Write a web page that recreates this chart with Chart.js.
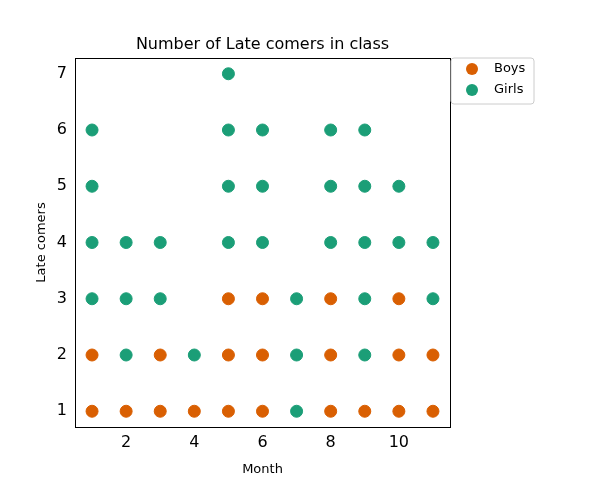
<!DOCTYPE html>
<html><head><script src="https://cdn.jsdelivr.net/npm/chart.js@4"></script>
<style>body{margin:0}</style></head><body>
<canvas id="c" width="600" height="480" style="width:600px;height:480px"></canvas>
<script>
const boysX=[1,1,2,3,3,4,5,5,5,6,6,6,8,8,8,9,10,10,10,11,11];
const boysY=[1,2,1,1,2,1,1,2,3,1,2,3,1,2,3,1,1,2,3,1,2];
const girlsX=[1,1,1,1,2,2,2,3,3,4,5,5,5,5,6,6,6,7,7,7,8,8,8,9,9,9,9,9,10,10,11,11];
const girlsY=[3,4,5,6,2,3,4,3,4,2,4,5,6,7,4,5,6,1,2,3,4,5,6,2,3,4,5,6,4,5,3,4];
const xTicks=[2,4,6,8,10];
const yTicks=[1,2,3,4,5,6,7];
const pts=(xs,ys)=>xs.map((x,i)=>({x,y:ys[i]}));
const F='DejaVu Sans';
const deco={id:'deco',afterDraw(ch){const c=ch.ctx,a=ch.chartArea;c.save();
c.strokeStyle='#000';c.lineWidth=1;c.strokeRect(a.left+0.5,a.top+0.5,a.right-a.left,a.bottom-a.top);
c.fillStyle='#000';c.font='16px '+F;c.textAlign='center';c.textBaseline='alphabetic';
c.fillText('Number of Late comers in class',(a.left+a.right)/2,49);
c.font='13px '+F;c.fillText('Month',(a.left+a.right)/2,473);
c.save();c.translate(45,(a.top+a.bottom)/2);c.rotate(-Math.PI/2);c.fillText('Late comers',0,0);c.restore();
c.fillStyle='#fff';c.strokeStyle='#ccc';c.beginPath();c.roundRect(451,58,83,46,3);c.fill();c.stroke();
ch.data.datasets.forEach((d,i)=>{const y=69+i*21;c.fillStyle=d.backgroundColor;c.beginPath();c.arc(472,y,6,0,Math.PI*2);c.fill();
c.fillStyle='#000';c.font='13px '+F;c.textAlign='left';c.textBaseline='middle';c.fillText(d.label,494,y);});
c.restore();}};
new Chart(document.getElementById('c'),{type:'scatter',
data:{datasets:[
{label:'Boys',data:pts(boysX,boysY),backgroundColor:'#d95f02',borderColor:'#d95f02',pointRadius:6,pointHoverRadius:6},
{label:'Girls',data:pts(girlsX,girlsY),backgroundColor:'#1b9e77',borderColor:'#1b9e77',pointRadius:6,pointHoverRadius:6}]},
options:{responsive:false,animation:false,events:[],
layout:{padding:{left:0,right:150,top:58,bottom:0}},
plugins:{legend:{display:false},tooltip:{enabled:false}},
scales:{
x:{min:0.5,max:11.5,grid:{display:false,tickLength:4,tickColor:'#000'},border:{display:false},
afterFit(s){s.height=53;},afterBuildTicks(s){s.ticks=xTicks.map(v=>({value:v}));},
ticks:{color:'#000',font:{family:F,size:16},maxRotation:0,padding:2}},
y:{min:0.72,max:7.28,grid:{display:false,tickLength:4,tickColor:'#000'},border:{display:false},
afterFit(s){s.width=75;},afterBuildTicks(s){s.ticks=yTicks.map(v=>({value:v}));},
ticks:{color:'#000',font:{family:F,size:16},padding:4}}}},
plugins:[deco]});
</script></body></html>
